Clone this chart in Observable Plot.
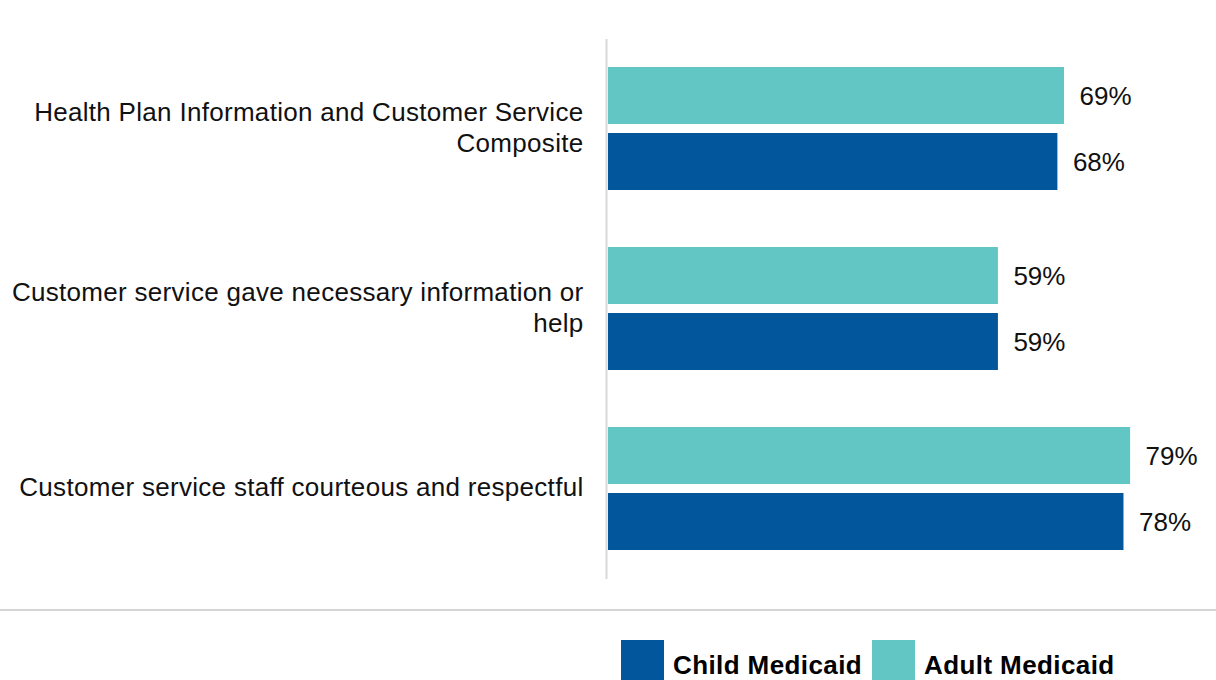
<!DOCTYPE html>
<html>
<head>
<meta charset="utf-8">
<script src="https://cdn.jsdelivr.net/npm/d3@7"></script>
<script src="https://cdn.jsdelivr.net/npm/@observablehq/plot@0.6"></script>
<style>
  body { margin: 0; background: #fff; font-family: "Liberation Sans", Arial, sans-serif; }
  #wrap { width: 1216px; height: 680px; overflow: hidden; position: relative; }
  #sep { position: absolute; left: 0; top: 609px; width: 1216px; height: 0; border-top: 2px solid #d4d4d4; }
  #legend { position: absolute; left: 621px; top: 640px; display: flex; align-items: flex-start; font-weight: bold; font-size: 26px; color: #000; letter-spacing: 0.4px; }
  .item { display: flex; align-items: flex-start; }
  .sw { width: 43px; height: 42px; }
  .lab { margin-left: 9px; margin-right: 10px; line-height: 1; padding-top: 12px; }
  #chart g[aria-label="fy-axis tick label"] { letter-spacing: 0.3px; }
</style>
</head>
<body>
<div id="wrap">
  <div id="chart"></div>
  <div id="sep"></div>
  <div id="legend"></div>
</div>
<script>
const categories = [
  "Health Plan Information and Customer Service Composite",
  "Customer service gave necessary information or help",
  "Customer service staff courteous and respectful"
];
const tickLabels = [
  "Health Plan Information and Customer Service\nComposite",
  "Customer service gave necessary information or\nhelp",
  "Customer service staff courteous and respectful"
];
const series = ["Adult Medicaid", "Child Medicaid"];
const adultValues = [69, 59, 79];
const childValues = [68, 59, 78];
const colors = ["#62C6C4", "#02569C"];
const legendOrder = ["Child Medicaid", "Adult Medicaid"];

const data = [];
categories.forEach((c, i) => {
  data.push({category: c, series: series[0], value: adultValues[i]});
  data.push({category: c, series: series[1], value: childValues[i]});
});
const labelOf = new Map(categories.map((c, i) => [c, tickLabels[i]]));

const chart = Plot.plot({
  width: 1216,
  height: 600,
  marginLeft: 608,
  marginRight: 0,
  marginTop: 38,
  marginBottom: 21,
  style: {fontFamily: "'Liberation Sans', Arial, sans-serif", color: "#000", background: "#fff"},
  x: {domain: [0, 92], axis: null},
  y: {domain: series, axis: null, paddingInner: 0.136, paddingOuter: 0.43},
  fy: {domain: categories, padding: 0, label: null},
  color: {domain: series, range: colors},
  marks: [
    Plot.axisFy({anchor: "left", tickSize: 0, tickPadding: 25, fontSize: 26, lineHeight: 1.2, label: null,
      tickFormat: d => labelOf.get(d), fill: "#111", dy: -3}),
    Plot.barX(data, {x: "value", y: "series", fy: "category", fill: "series"}),
    Plot.text(data, {x: "value", y: "series", fy: "category", text: d => d.value + "%",
      textAnchor: "start", dx: 15, dy: 1, fontSize: 26, fill: "#111"}),
    Plot.ruleX([0], {stroke: "#d9d9d9", strokeWidth: 2, dx: -2})
  ]
});
document.getElementById("chart").appendChild(chart);

const legend = document.getElementById("legend");
legendOrder.forEach(s => {
  const it = document.createElement("div");
  it.className = "item";
  const sw = document.createElement("div");
  sw.className = "sw";
  sw.style.background = colors[series.indexOf(s)];
  const lab = document.createElement("div");
  lab.className = "lab";
  lab.textContent = s;
  it.appendChild(sw); it.appendChild(lab);
  legend.appendChild(it);
});
</script>
</body>
</html>
